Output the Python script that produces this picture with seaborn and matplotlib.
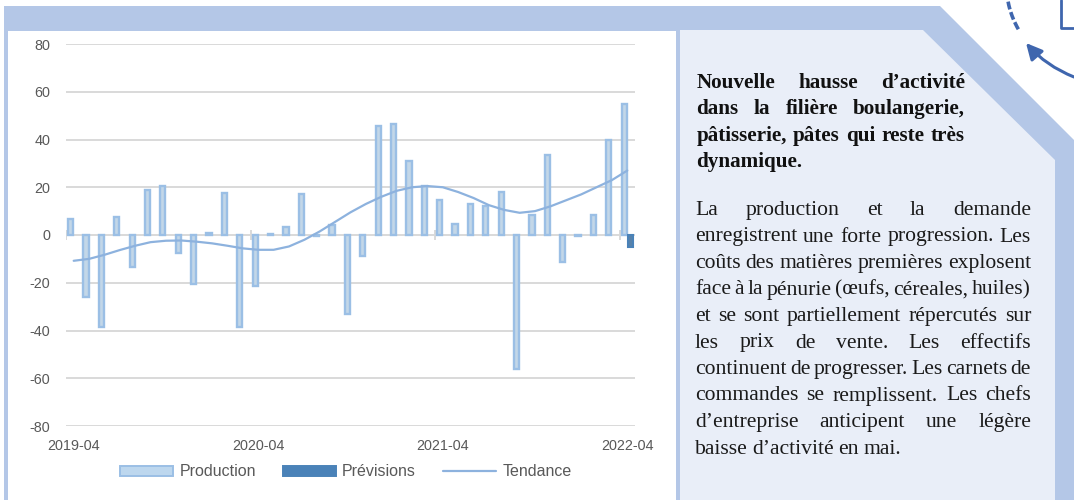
import numpy as np
import pandas as pd
import matplotlib
matplotlib.use('Agg')
import matplotlib.pyplot as plt
import seaborn as sns
from matplotlib.patches import Polygon, Rectangle, Patch, Arc, FancyArrowPatch
from matplotlib.lines import Line2D

# values
mois = [str(p) for p in pd.period_range('2019-04', '2022-04', freq='M')]
production = [6.5, -26, -38.5, 7.5, -13.5, 19, 20.5, -7.5, -20.5, 1, 17.5, -38.5, -21.5,
              0.4, 3.5, 17, -0.3, 4, -33, -8.6, 45.5, 46.5, 31, 20.5, 14.5, 4.5, 13, 12,
              18, -56, 8.5, 33.5, -11.5, -0.4, 8.5, 40, 55]
previsions = [np.nan] * 36 + [-5]
tendance = [-10.8, -10, -8.3, -6.3, -4.5, -3, -2.4, -2.3, -2.8, -3.5, -4.5, -5.6, -6.2,
            -6.2, -4.8, -2, 1.5, 5.5, 9.5, 13, 16, 18.5, 20, 20.5, 20, 18, 15.5, 12.5,
            10.5, 9.3, 10, 12, 14.5, 17, 20, 23, 27]
y_ticks = [80, 60, 40, 20, 0, -20, -40, -60, -80]
x_labels = ['2019-04', '2020-04', '2021-04', '2022-04']

titre = ['Nouvelle hausse d’activité',
         'dans la filière boulangerie,',
         'pâtisserie, pâtes qui reste très',
         'dynamique.']
corps = ['La production et la demande',
         'enregistrent une forte progression. Les',
         'coûts des matières premières explosent',
         'face à la pénurie (œufs, céreales, huiles)',
         'et se sont partiellement répercutés sur',
         'les prix de vente. Les effectifs',
         'continuent de progresser. Les carnets de',
         'commandes se remplissent. Les chefs',
         'd’entreprise anticipent une légère',
         'baisse d’activité en mai.']

BAND = '#B4C7E7'
PALE = '#E9EEF8'
GRID = '#D9D9D9'
GREY = '#595959'
DARK = '#3F66AE'

sns.set_style('white')
plt.rcParams['font.family'] = ['Liberation Sans', 'DejaVu Sans']
plt.rcParams['axes.unicode_minus'] = False

fig = plt.figure(figsize=(10.74, 5), dpi=100)

# background shapes, in pixels
bg = fig.add_axes([0, 0, 1, 1])
bg.set_xlim(0, 1074)
bg.set_ylim(500, 0)
bg.axis('off')
bg.add_patch(Polygon([(4, 6), (940, 6), (1074, 140), (1074, 500), (4, 500)], color=BAND, lw=0))
bg.add_patch(Polygon([(680, 30), (923, 30), (1055, 160), (1055, 500), (680, 500)], color=PALE, lw=0))
bg.add_patch(Rectangle((8, 31), 668, 469, color='white', lw=0))
bg.plot([1061, 1061, 1074], [0, 28, 28], color=DARK, lw=2)
bg.add_patch(Arc((1095, -15), 177, 177, theta1=150, theta2=180, color=DARK, lw=2.6, ls=(0, (2.2, 0.8))))
bg.add_patch(FancyArrowPatch((1074, 77), (1026, 43), connectionstyle='arc3,rad=-0.12',
                             arrowstyle='-|>', mutation_scale=24, color=DARK, lw=2.2,
                             shrinkA=0, shrinkB=0))


def justified(lignes, x0, x1, y0, dy, **kw):
    # place word by word so that every line but the last fills the column
    r = fig.canvas.get_renderer()
    for i, ligne in enumerate(lignes):
        mots = [bg.text(0, y0 + i * dy, m, va='baseline', ha='left', **kw) for m in ligne.split()]
        larg = [m.get_window_extent(r).width for m in mots]
        if i == len(lignes) - 1:
            esp = larg[0] / len(ligne.split()[0]) * 0.5
        else:
            esp = (x1 - x0 - sum(larg)) / (len(mots) - 1)
        x = x0
        for m, w in zip(mots, larg):
            m.set_x(x)
            x += w + esp


justified(titre, 696.5, 965, 88, 26.4, family=['Liberation Serif', 'DejaVu Serif'],
          weight='bold', fontsize=15.2, color='#111111')
justified(corps, 695, 1031, 215, 26.5, family=['Liberation Serif', 'DejaVu Serif'],
          fontsize=15.6, color='#1a1a1a')

# chart
ax = fig.add_axes([66 / 1074, 74 / 500, 569 / 1074, 382 / 500])
ax.patch.set_alpha(0)

df = pd.DataFrame({'mois': mois, 'Production': production, 'Prévisions': previsions})
df = df.melt(id_vars='mois', var_name='serie', value_name='valeur')

sns.barplot(data=df, x='mois', y='valeur', hue='serie', order=mois,
            hue_order=['Production', 'Prévisions'], palette=['#BDD7EE', '#4A82B8'],
            errorbar=None, width=0.8, gap=0.15, legend=False, ax=ax, zorder=2)
for b in ax.containers[0]:
    b.set_edgecolor('#9BBFE5')
    b.set_linewidth(1.7)
for b in ax.containers[1]:
    b.set_edgecolor('#4A82B8')
    b.set_linewidth(1.5)

sns.lineplot(x=np.arange(len(mois)), y=tendance, color='#8DB2DE', lw=1.6, ax=ax, zorder=3)

ax.set_xlim(-0.5, len(mois) - 0.5)
ax.set_ylim(-80, 80)
ax.set_yticks(y_ticks)
ax.set_xticks([mois.index(m) for m in x_labels], x_labels)
ax.set_xlabel('')
ax.set_ylabel('')
ax.tick_params(axis='y', length=0, pad=11.5, labelsize=10.4, labelcolor=GREY)
ax.tick_params(axis='x', length=0, pad=9, labelsize=10.4, labelcolor=GREY)
ax.yaxis.grid(True, color=GRID, lw=1.4, zorder=0)
ax.xaxis.grid(False)
ax.set_axisbelow(True)
sns.despine(ax=ax, left=True, bottom=True)

# year separators on the zero line
ax.vlines(np.arange(-0.5, 36, 12), -2, 2, color=GRID, lw=1.4, zorder=1)

handles = [Patch(facecolor='#BDD7EE', edgecolor='#9BBFE5', lw=1.4, label='Production'),
           Patch(facecolor='#4A82B8', edgecolor='#4A82B8', lw=1.4, label='Prévisions'),
           Line2D([], [], color='#8DB2DE', lw=1.6, label='Tendance')]
fig.legend(handles=handles, loc='center', bbox_to_anchor=(346 / 1074, 28 / 500), ncol=3,
           frameon=False, fontsize=11.5, labelcolor=GREY, handlelength=3.3, handleheight=0.6,
           handletextpad=0.4, columnspacing=1.7)

fig.savefig('out.png', dpi=100)
